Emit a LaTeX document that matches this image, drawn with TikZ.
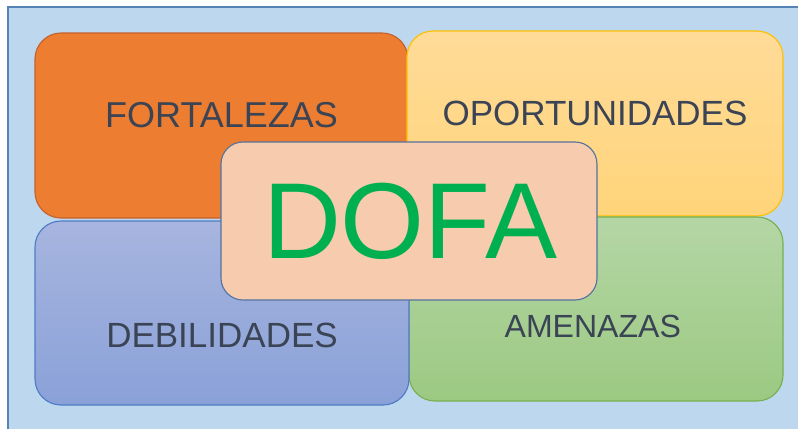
\documentclass[tikz,border=0pt]{standalone}
\usepackage{fontspec}
\setmainfont{Liberation Sans}
\definecolor{fondo}{HTML}{BDD7EE}
\definecolor{marco}{HTML}{5583B5}
\definecolor{naranja}{HTML}{ED7D31}
\definecolor{naranjaborde}{HTML}{C4622B}
\definecolor{amarilloarriba}{HTML}{FFDB98}
\definecolor{amarilloabajo}{HTML}{FFD47A}
\definecolor{amarilloborde}{HTML}{FFC000}
\definecolor{azularriba}{HTML}{A7B5DF}
\definecolor{azulabajo}{HTML}{8AA1D8}
\definecolor{azulborde}{HTML}{4F7BC6}
\definecolor{verdearriba}{HTML}{B4D6A5}
\definecolor{verdeabajo}{HTML}{9CC982}
\definecolor{verdeborde}{HTML}{78B050}
\definecolor{durazno}{HTML}{F7CBAD}
\definecolor{durazoborde}{HTML}{5373A0}
\definecolor{verdedofa}{HTML}{00B050}
\definecolor{texto}{HTML}{3B4454}

\begin{document}
\begin{tikzpicture}[
  cuadro/.style={rounded corners=0.65cm, line width=0.8pt, inner sep=0pt},
  etiqueta/.style={text=texto, inner sep=0pt, font=\fontsize{24.9}{30}\selectfont}]
  \useasboundingbox (0cm,0cm) rectangle (19.95cm,-10.7cm);
  \filldraw[fill=fondo, draw=marco, line width=1pt] (0.2cm,-0.175cm) rectangle (20.3cm,-11cm);
  \node[cuadro, fill=naranja, draw=naranjaborde, minimum width=9.325cm, minimum height=4.625cm] (fort) at (5.5375cm,-3.1375cm) {};
  \node[etiqueta, font=\fontsize{25.6}{30}\selectfont] (fortlbl) at ([yshift=0.2625cm]fort.center) {FORTALEZAS};
  \node[cuadro, top color=amarilloarriba, bottom color=amarilloabajo, draw=amarilloborde, minimum width=9.4cm, minimum height=4.625cm] (opor) at (14.875cm,-3.0875cm) {};
  \node[etiqueta] (oporlbl) at ([yshift=0.26cm]opor.center) {OPORTUNIDADES};
  \node[cuadro, top color=verdearriba, bottom color=verdeabajo, draw=verdeborde, minimum width=9.35cm, minimum height=4.6cm] (amen) at (14.9cm,-7.725cm) {};
  \node[etiqueta, font=\fontsize{22.8}{27}\selectfont] (amenlbl) at ([xshift=-0.08cm, yshift=-0.425cm]amen.center) {AMENAZAS};
  \node[cuadro, top color=azularriba, bottom color=azulabajo, draw=azulborde, minimum width=9.35cm, minimum height=4.6cm] (debi) at (5.55cm,-7.825cm) {};
  \node[etiqueta] (debilbl) at ([yshift=-0.55cm]debi.center) {DEBILIDADES};
  \node[cuadro, rounded corners=0.55cm, fill=durazno, draw=durazoborde, minimum width=9.4cm, minimum height=3.95cm] (dofa) at (10.225cm,-5.525cm) {};
  \node[text=verdedofa, inner sep=0pt, font=\fontsize{76.8}{82}\selectfont] (dofalbl) at ([xshift=0.025cm]dofa.center) {DOFA};
\end{tikzpicture}
\end{document}
